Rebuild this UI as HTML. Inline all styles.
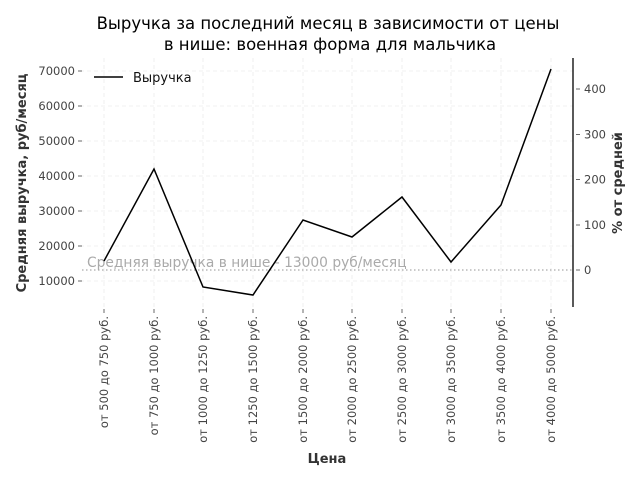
<!DOCTYPE html>
<html><head><meta charset="utf-8"><style>body{margin:0;background:#fff}svg{display:block;font-family:"DejaVu Sans","Liberation Sans",sans-serif}</style></head><body>
<svg width="640" height="480" viewBox="0 0 640 480" xmlns="http://www.w3.org/2000/svg">
<text x="328" y="29" font-size="16.5" text-anchor="middle" fill="#000">Выручка за последний месяц в зависимости от цены</text>
<text x="330" y="50" font-size="16.5" text-anchor="middle" fill="#000">в нише: военная форма для мальчика</text>
<g stroke="#ececec" stroke-width="0.8" stroke-dasharray="4,3">
<line x1="80" x2="573" y1="71" y2="71"/><line x1="80" x2="573" y1="106" y2="106"/><line x1="80" x2="573" y1="141" y2="141"/><line x1="80" x2="573" y1="176" y2="176"/><line x1="80" x2="573" y1="211" y2="211"/><line x1="80" x2="573" y1="246" y2="246"/><line x1="80" x2="573" y1="281" y2="281"/>
<line x1="104" x2="104" y1="58" y2="307"/><line x1="154" x2="154" y1="58" y2="307"/><line x1="203" x2="203" y1="58" y2="307"/><line x1="253" x2="253" y1="58" y2="307"/><line x1="303" x2="303" y1="58" y2="307"/><line x1="352" x2="352" y1="58" y2="307"/><line x1="402" x2="402" y1="58" y2="307"/><line x1="451" x2="451" y1="58" y2="307"/><line x1="501" x2="501" y1="58" y2="307"/><line x1="551" x2="551" y1="58" y2="307"/>
</g>
<g stroke="#444" stroke-width="0.8">
<line x1="78" x2="82" y1="71" y2="71"/><line x1="78" x2="82" y1="106" y2="106"/><line x1="78" x2="82" y1="141" y2="141"/><line x1="78" x2="82" y1="176" y2="176"/><line x1="78" x2="82" y1="211" y2="211"/><line x1="78" x2="82" y1="246" y2="246"/><line x1="78" x2="82" y1="281" y2="281"/>
<line x1="576" x2="580" y1="89" y2="89"/><line x1="576" x2="580" y1="134.5" y2="134.5"/><line x1="576" x2="580" y1="179.5" y2="179.5"/><line x1="576" x2="580" y1="225" y2="225"/><line x1="576" x2="580" y1="270" y2="270"/>
<line x1="104" x2="104" y1="309" y2="313"/><line x1="154" x2="154" y1="309" y2="313"/><line x1="203" x2="203" y1="309" y2="313"/><line x1="253" x2="253" y1="309" y2="313"/><line x1="303" x2="303" y1="309" y2="313"/><line x1="352" x2="352" y1="309" y2="313"/><line x1="402" x2="402" y1="309" y2="313"/><line x1="451" x2="451" y1="309" y2="313"/><line x1="501" x2="501" y1="309" y2="313"/><line x1="551" x2="551" y1="309" y2="313"/>
</g>
<line x1="573" x2="573" y1="58" y2="307" stroke="#000" stroke-width="1.3"/>
<g font-size="11.5" fill="#444" text-anchor="end">
<text x="75" y="75">70000</text><text x="75" y="110">60000</text><text x="75" y="145">50000</text><text x="75" y="180">40000</text><text x="75" y="215">30000</text><text x="75" y="250">20000</text><text x="75" y="285">10000</text>
</g>
<g font-size="11.5" fill="#444">
<text x="584" y="93">400</text><text x="584" y="138.5">300</text><text x="584" y="183.5">200</text><text x="584" y="229">100</text><text x="584" y="274">0</text>
</g>
<g font-size="11.5" fill="#444" text-anchor="end">
<text transform="translate(108,316) rotate(-90)">от 500 до 750 руб.</text>
<text transform="translate(158,316) rotate(-90)">от 750 до 1000 руб.</text>
<text transform="translate(207,316) rotate(-90)">от 1000 до 1250 руб.</text>
<text transform="translate(257,316) rotate(-90)">от 1250 до 1500 руб.</text>
<text transform="translate(307,316) rotate(-90)">от 1500 до 2000 руб.</text>
<text transform="translate(356,316) rotate(-90)">от 2000 до 2500 руб.</text>
<text transform="translate(406,316) rotate(-90)">от 2500 до 3000 руб.</text>
<text transform="translate(455,316) rotate(-90)">от 3000 до 3500 руб.</text>
<text transform="translate(505,316) rotate(-90)">от 3500 до 4000 руб.</text>
<text transform="translate(555,316) rotate(-90)">от 4000 до 5000 руб.</text>
</g>
<text x="327" y="463" font-size="13" font-weight="bold" fill="#333" text-anchor="middle">Цена</text>
<text transform="translate(26,183) rotate(-90)" font-size="13" font-weight="bold" fill="#333" text-anchor="middle">Средняя выручка, руб/месяц</text>
<text transform="translate(622,183) rotate(-90)" font-size="13" font-weight="bold" fill="#333" text-anchor="middle">% от средней</text>
<line x1="82" x2="573" y1="270" y2="270" stroke="#aaa" stroke-width="1.3" stroke-dasharray="1.5,2.5"/>
<text x="87" y="267" font-size="13.8" fill="#aaa">Средняя выручка в нише - 13000 руб/месяц</text>
<polyline fill="none" stroke="#000" stroke-width="1.5" points="104,261 154,169 203,287 253,295 303,220 352,237 402,197 451,262 501,205 551,69"/>
<line x1="94" x2="123" y1="77" y2="77" stroke="#000" stroke-width="1.5"/>
<text x="133" y="82" font-size="13" fill="#111">Выручка</text>
</svg>
</body></html>
